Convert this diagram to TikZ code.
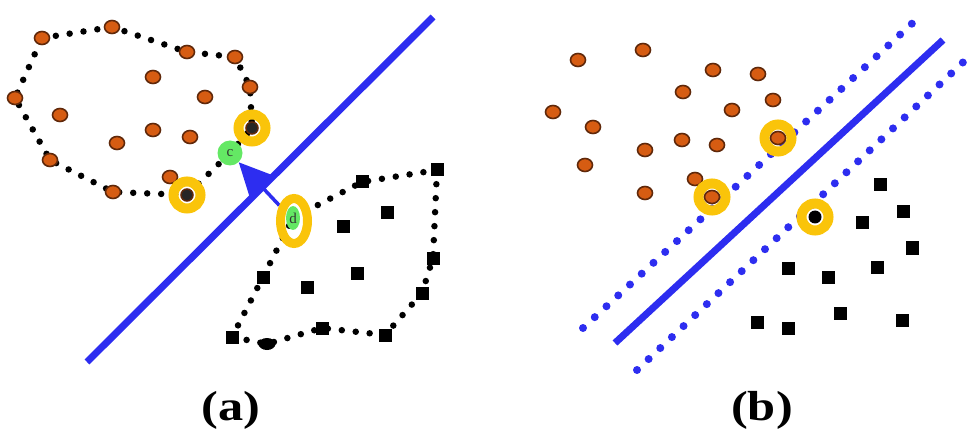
\documentclass[tikz,border=0pt]{standalone}
\usepackage{fontspec}
\setmainfont{Liberation Serif}
\usetikzlibrary{shapes.geometric,arrows.meta}
\definecolor{orfill}{RGB}{214,92,18}
\definecolor{brn}{RGB}{95,40,10}
\definecolor{svblue}{RGB}{45,45,240}
\definecolor{gold}{RGB}{250,196,10}
\definecolor{lgreen}{RGB}{100,232,100}
\pgfdeclarelayer{bg}
\pgfsetlayers{bg,main}
\begin{document}
\begin{tikzpicture}[x=1pt,y=-1pt,
  orpt/.style={ellipse,draw=brn,fill=orfill,line width=1.6pt,minimum width=15pt,minimum height=13pt,inner sep=0pt},
  sqpt/.style={rectangle,fill=black,minimum size=13pt,inner sep=0pt},
  blpt/.style={circle,draw=brn,fill=black!85,line width=1.5pt,minimum size=12pt,inner sep=0pt},
  hull/.style={line width=6.5pt,dash pattern=on 0pt off 14pt,line cap=round},
  margin/.style={draw=svblue,line width=8pt,dash pattern=on 0pt off 16pt,line cap=round},
  sep/.style={draw=svblue,line width=7pt},
  ring/.style={circle,draw=gold,line width=10pt,minimum size=27pt,inner sep=0pt},
  ptlabel/.style={font=\fontsize{15}{15}\selectfont,text=black!80,inner sep=0pt},
  caption/.style={font=\bfseries\fontsize{42}{42}\selectfont,xscale=1.2,inner sep=0pt}
]
\useasboundingbox (0,0) rectangle (968,438);

% ---------------- panel (a) ----------------
\coordinate (la1) at (87,362);
\coordinate (la2) at (433,17);
\begin{pgfonlayer}{bg}
\draw[sep] (la1) -- (la2);
\end{pgfonlayer}

% orange hull vertices
\node[orpt] (o1) at (42,38) {};
\node[orpt] (o2) at (112,27) {};
\node[orpt] (o3) at (187,52) {};
\node[orpt] (o4) at (235,57) {};
\node[orpt] (o5) at (250,87) {};
\node[ring] (h1) at (252,128) {};
\node[blpt] at (h1) {};
\node[orpt] (o6) at (113,192) {};
\node[orpt] (o7) at (50,160) {};
\node[orpt] (o8) at (15,98) {};
\node[orpt] (o9) at (170,177) {};
\node[ring] (h2) at (187,195) {};
\node[blpt] at (h2) {};
% interior orange
\foreach \px/\py [count=\i] in {153/77,205/97,60/115,153/130,117/143,190/137}
  \node[orpt] (oi\i) at (\px,\py) {};
% support vectors c and d
\node[circle,fill=lgreen,minimum size=25pt,inner sep=0pt] (c) at (230,153) {};
\node[ptlabel] at (c) {c};
\node[ellipse,draw=gold,line width=9pt,minimum width=27pt,minimum height=45pt,inner sep=0pt] (dr) at (294,221) {};
\node[ellipse,fill=lgreen,minimum width=14pt,minimum height=24pt,inner sep=0pt] (d) at (293,218) {};
\node[ptlabel] at (d) {d};

% black hull vertices
\node[sqpt] (b1) at (362,182) {};
\node[sqpt] (b2) at (437,170) {};
\node[sqpt] (b3) at (433,258) {};
\node[sqpt] (b4) at (422,293) {};
\node[sqpt] (b5) at (385,335) {};
\node[sqpt] (b6) at (322,328) {};
\node[ellipse,fill=black,minimum width=17pt,minimum height=12pt,inner sep=0pt] (b7) at (267,344) {};
\node[sqpt] (b8) at (232,337) {};
\node[sqpt] (b9) at (263,277) {};
\foreach \px/\py [count=\i] in {387/213,343/227,357/273,307/287}
  \node[sqpt] (bi\i) at (\px,\py) {};

\begin{pgfonlayer}{bg}
\draw[hull] (o1.center) -- (o2.center) -- (o3.center) -- (o4.center) -- (o5.center)
  -- (h1.center) -- (c.center) -- (h2.center) -- (o6.center) -- (o7.center) -- (o8.center) -- cycle;
\draw[hull] (d.center) -- (b1.center) -- (b2.center) -- (b3.center) -- (b4.center) -- (b5.center)
  -- (b6.center) -- (b7.center) -- (b8.center) -- (b9.center) -- cycle;
\draw[svblue,line width=3.5pt,-{Triangle[length=32pt,width=30pt]}] (dr) -- (c);
\end{pgfonlayer}

\node[caption] (capa) at (231,410) {(a)};

% ---------------- panel (b) ----------------
\coordinate (s1) at (615,343);
\coordinate (s2) at (943,40);
\coordinate (u1) at (583,328);
\coordinate (u2) at (918,18);
\coordinate (w1) at (637,370);
\coordinate (w2) at (975,51);
\draw[sep] (s1) -- (s2);
\draw[margin] (u1) -- (u2);
\draw[margin] (w1) -- (w2);

\foreach \px/\py [count=\i] in {578/60,643/50,713/70,758/74,683/92,773/100,553/112,593/127,732/110,682/140,717/145,645/150,585/165,645/193,695/179}
  \node[orpt] (ro\i) at (\px,\py) {};
\node[ring] (rh1) at (778,138) {};
\node[orpt] (rc1) at (rh1) {};
\node[ring] (rh2) at (712,197) {};
\node[orpt] (rc2) at (rh2) {};
\node[ring] (rh3) at (815,217) {};
\node[circle,fill=black,minimum size=13pt,inner sep=0pt] (rc3) at (rh3) {};

\foreach \px/\py [count=\i] in {880/185,903/212,862/223,912/248,877/267,788/268,828/277,840/313,902/320,757/322,788/328}
  \node[sqpt] (rb\i) at (\px,\py) {};

\node[caption] (capb) at (762,410) {(b)};
\end{tikzpicture}
\end{document}
